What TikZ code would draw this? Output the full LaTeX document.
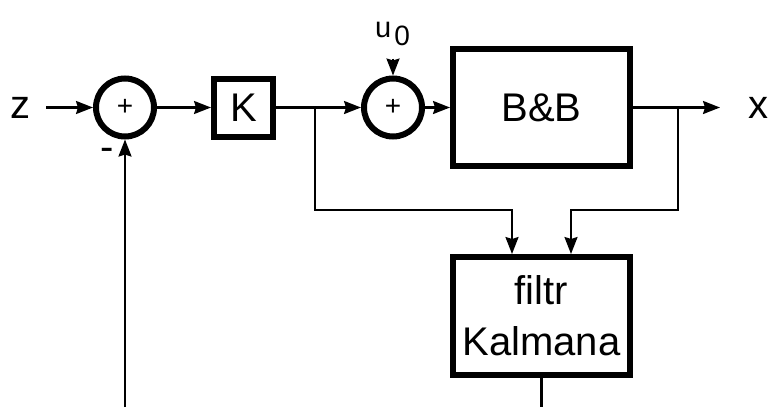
\documentclass[tikz,border=0pt]{standalone}
\usepackage{fontspec}
\setmainfont{Liberation Sans}
\usetikzlibrary{arrows.meta}
\begin{document}
\begin{tikzpicture}[x=1pt,y=-1pt,
  conn/.style={line width=2.2pt},
  arr/.style={conn,-{Stealth[length=17pt,width=13pt,inset=2pt]}},
  blk/.style={draw,line width=6pt,inner sep=0pt,font=\fontsize{40}{51}\selectfont,align=center},
  sumnode/.style={draw,circle,line width=6pt,minimum size=58pt,inner sep=0pt,font=\fontsize{28}{28}\selectfont},
  lbl/.style={inner sep=0pt,font=\fontsize{40}{40}\selectfont}]
\useasboundingbox (0,0) rectangle (768,407);
% nodes
\node[lbl] (z) at (20,107.5) {z};
\node[sumnode] (s1) at (125,107.5) {+};
\node[blk,minimum width=59pt,minimum height=58pt] (K) at (243.5,107.5) {K};
\node[sumnode] (s2) at (393,107.5) {+};
\node[blk,minimum width=177pt,minimum height=117pt] (P) at (541.5,107.5) {B\&B};
\node[blk,minimum width=177pt,minimum height=118pt] (F) at (541.5,316) {filtr\\Kalmana};
\node[lbl] (x) at (758,108) {x};
\node[anchor=base west,inner sep=0pt] (u) at (375,37) {\fontsize{29}{29}\selectfont u\hspace{3pt}\raisebox{-8pt}{\fontsize{28}{28}\selectfont 0}};
\node[inner sep=0pt,font=\fontsize{40}{40}\selectfont] (minus) at (107.5,154) {-};
% helper coordinates
\coordinate (b1) at (315,107.5);
\coordinate (b2) at (678,107.5);
\coordinate (xe) at (720,107.5);
\coordinate (lvl) at (0,210);
\coordinate (bot) at (0,407);
\coordinate (fl) at ([xshift=-29.5pt]F.north);
\coordinate (fr) at ([xshift=29.5pt]F.north);
% connectors
\draw[arr,shorten <=16pt] (z.east) -- (s1.west);
\draw[arr] (s1.east) -- (K.west);
\draw[arr] (K.east) -- (s2.west);
\draw[arr] ([yshift=17pt]s2.north) -- (s2.north);
\draw[arr] (s2.east) -- (P.west);
\draw[arr] (P.east) -- (xe);
\draw[arr] (b1) |- (fl |- lvl) -- (fl);
\draw[arr] (b2) |- (fr |- lvl) -- (fr);
\draw[conn] (F.south) -- (F.south |- bot);
\draw[arr] (s1.south |- bot) -- (s1.south);
\end{tikzpicture}
\end{document}
